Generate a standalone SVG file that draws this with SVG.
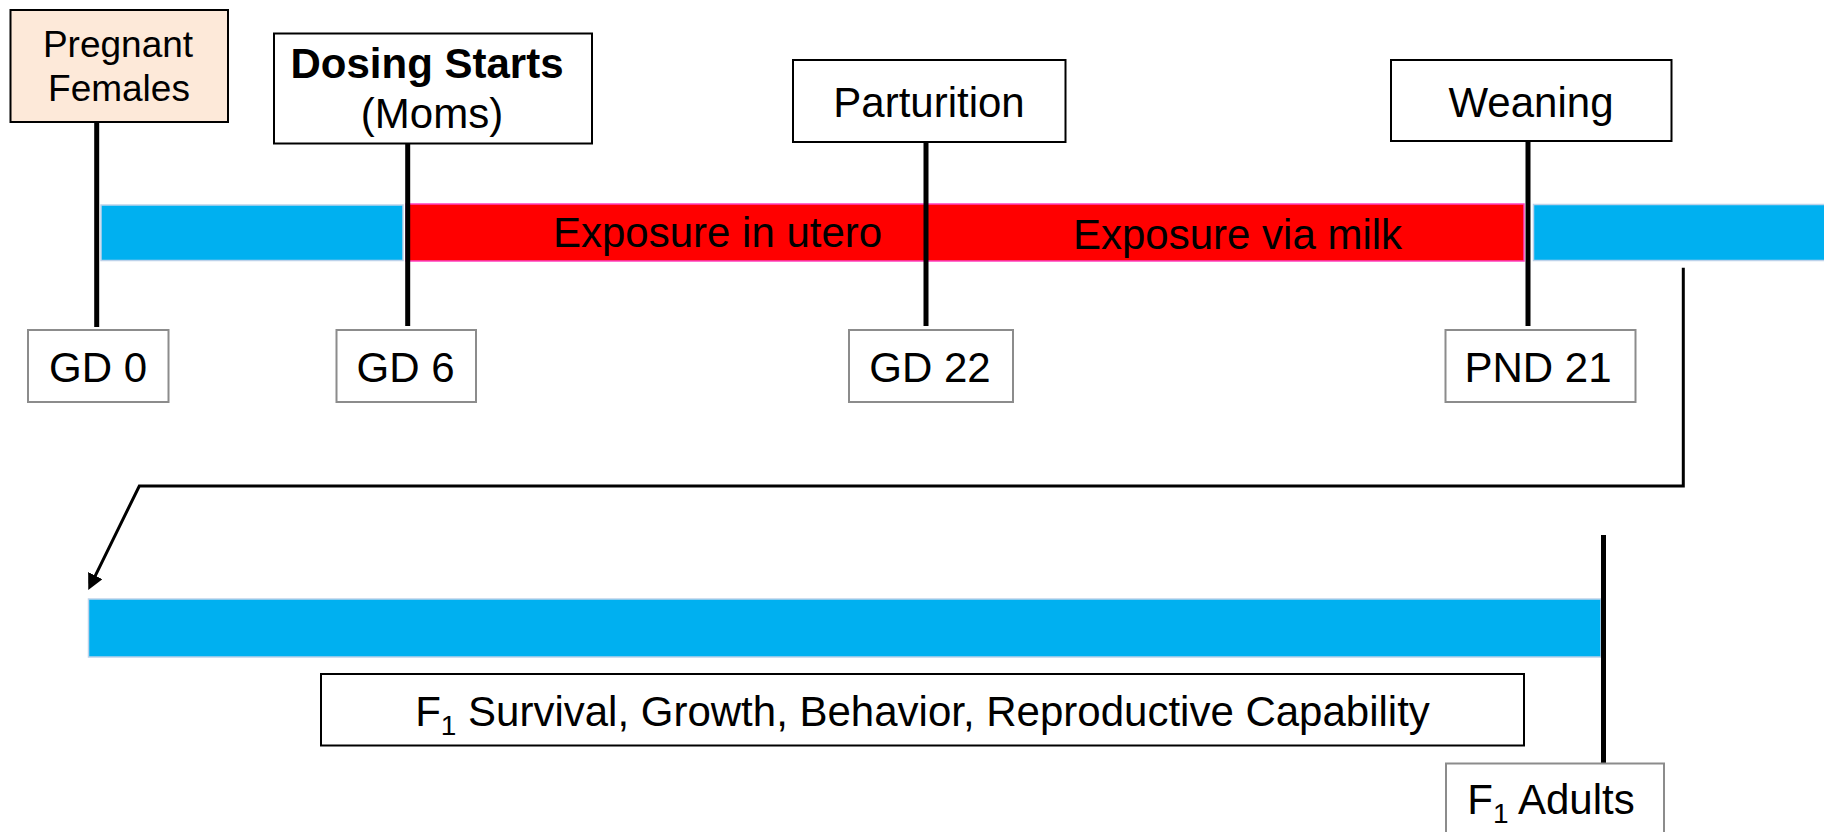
<svg xmlns="http://www.w3.org/2000/svg" width="1824" height="832" viewBox="0 0 1824 832">
  <defs>
    <marker id="arrow" viewBox="0 0 16 16" refX="8" refY="8" markerWidth="16" markerHeight="16" markerUnits="userSpaceOnUse" orient="auto">
      <path d="M0,0 L16,8 L0,16 z" fill="#000"/>
    </marker>
    <style>
      text { font-family: "Liberation Sans", Arial, sans-serif; font-size: 42px; fill: #000; }
      .c { text-anchor: middle; }
      .evt { fill: #fff; stroke: #000; stroke-width: 2; }
      .day { fill: #fff; stroke: #8c8c8c; stroke-width: 2; }
      .blue { fill: #00B0F0; stroke: #BDD2EA; stroke-width: 1.5; }
      .red { fill: #FF0000; stroke: #FF40C0; stroke-width: 1.5; }
      .tick { stroke: #000; stroke-width: 5; fill: none; }
      .conn { stroke: #000; stroke-width: 3; fill: none; stroke-linejoin: miter; }
    </style>
  </defs>
  <rect width="1824" height="832" fill="#fff"/>

  <g id="bars">
    <rect class="blue" x="101" y="205" width="302" height="55.5"/>
    <rect class="red" x="406" y="204" width="1118" height="57"/>
    <rect class="blue" x="1533.5" y="204.5" width="300" height="56"/>
    <rect class="blue" x="88.5" y="599" width="1512.5" height="58"/>
    <text x="553" y="247">Exposure in utero</text>
    <text x="1073" y="249">Exposure via milk</text>
  </g>

  <g id="connectors">
    <line class="tick" x1="96.7" y1="122" x2="96.7" y2="327"/>
    <line class="tick" x1="407.7" y1="143" x2="407.7" y2="326"/>
    <line class="tick" x1="926" y1="142" x2="926" y2="326"/>
    <line class="tick" x1="1528" y1="141" x2="1528" y2="326"/>
    <line class="tick" x1="1603.5" y1="535" x2="1603.5" y2="763"/>
    <path class="conn" d="M1683.3,267.7 L1683.3,486 L139.3,486 L91.8,582.8" marker-end="url(#arrow)"/>
  </g>

  <g id="pregnant-females">
    <rect x="10.5" y="10" width="217.5" height="112" fill="#FDE9D9" stroke="#000" stroke-width="2"/>
    <text class="c" x="118" y="57" style="font-size:37px">Pregnant</text>
    <text class="c" x="119" y="101" style="font-size:37px">Females</text>
  </g>

  <g id="dosing-starts">
    <rect class="evt" x="274" y="33.5" width="318" height="110"/>
    <text class="c" x="427" y="78" font-weight="bold">Dosing Starts</text>
    <text class="c" x="432" y="128">(Moms)</text>
  </g>

  <g id="parturition">
    <rect class="evt" x="793" y="60" width="272.5" height="82"/>
    <text class="c" x="929" y="117">Parturition</text>
  </g>

  <g id="weaning">
    <rect class="evt" x="1391" y="60" width="280.5" height="81"/>
    <text class="c" x="1531" y="117">Weaning</text>
  </g>

  <g id="gd0">
    <rect class="day" x="28" y="330" width="140.5" height="72"/>
    <text class="c" x="98" y="382">GD 0</text>
  </g>

  <g id="gd6">
    <rect class="day" x="336.5" y="330" width="139.5" height="72"/>
    <text class="c" x="405.5" y="382">GD 6</text>
  </g>

  <g id="gd22">
    <rect class="day" x="849" y="330" width="164" height="72"/>
    <text class="c" x="930" y="382">GD 22</text>
  </g>

  <g id="pnd21">
    <rect class="day" x="1445.5" y="330" width="190" height="72"/>
    <text class="c" x="1538" y="382">PND 21</text>
  </g>

  <g id="f1-endpoints">
    <rect class="evt" x="321" y="674" width="1203" height="71.5"/>
    <text class="c" x="922.5" y="726">F<tspan style="font-size:28px" dy="9">1</tspan><tspan dy="-9"> Survival, Growth, Behavior, Reproductive Capability</tspan></text>
  </g>

  <g id="f1-adults">
    <rect class="day" x="1446" y="763.5" width="218" height="90"/>
    <text class="c" x="1551" y="814">F<tspan style="font-size:28px" dy="9">1</tspan><tspan dy="-9"> Adults</tspan></text>
  </g>
</svg>
